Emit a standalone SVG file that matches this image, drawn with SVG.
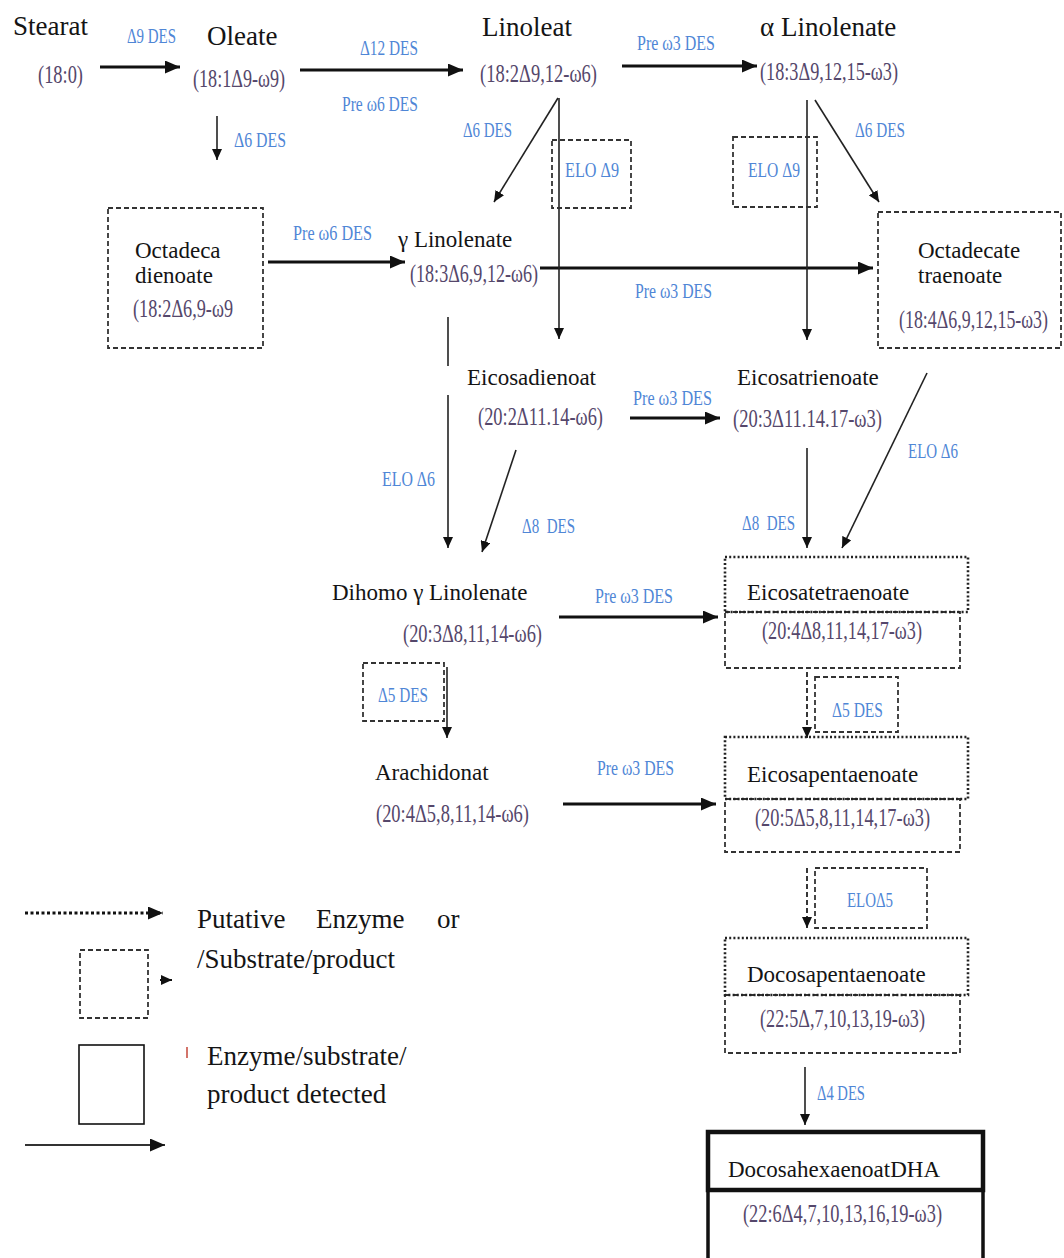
<svg xmlns="http://www.w3.org/2000/svg" width="1064" height="1258" viewBox="0 0 1064 1258">
<style>
.nm{font-family:"Liberation Serif","Times New Roman",serif;fill:#141414}
.big{font-size:27px}
.mid{font-size:23px}
.fm{font-family:"Liberation Serif","Times New Roman",serif;fill:#55476b;font-size:25px}
.lb{font-family:"Liberation Serif","Times New Roman",serif;fill:#4f86d6;font-size:21px}
.lg{font-family:"Liberation Serif","Times New Roman",serif;fill:#141414;font-size:27px}
.thk{stroke:#111;stroke-width:2.8;fill:none}
.thn{stroke:#222;stroke-width:1.6;fill:none}
.dsa{stroke:#222;stroke-width:1.8;stroke-dasharray:5 3;fill:none}
.dash{stroke:#333;stroke-width:1.8;stroke-dasharray:5 3;fill:none}
.dot{stroke:#222;stroke-width:2.6;stroke-dasharray:2 2.2;fill:none}
.solid{stroke:#111;fill:none}
</style>
<defs>
<marker id="ahT" markerUnits="userSpaceOnUse" markerWidth="15" markerHeight="13" refX="15" refY="6.5" orient="auto"><path d="M0,0 L15,6.5 L0,13 z" fill="#111"/></marker>
<marker id="ahS" markerUnits="userSpaceOnUse" markerWidth="11" markerHeight="10" refX="11" refY="5" orient="auto"><path d="M0,0 L11,5 L0,10 z" fill="#111"/></marker>
</defs>
<rect width="1064" height="1258" fill="#fff"/>

<g id="connectors">
<path class="thk" d="M100,67 H180" marker-end="url(#ahT)"/>
<path class="thk" d="M300,70 H463" marker-end="url(#ahT)"/>
<path class="thk" d="M622,66 H757" marker-end="url(#ahT)"/>
<path class="thk" d="M268,262 H405" marker-end="url(#ahT)"/>
<path class="thk" d="M540,268 H873" marker-end="url(#ahT)"/>
<path class="thk" d="M630,418 H720" marker-end="url(#ahT)"/>
<path class="thk" d="M559,617 H718" marker-end="url(#ahT)"/>
<path class="thk" d="M563,804 H716" marker-end="url(#ahT)"/>
<path class="thn" d="M217,116 V160" marker-end="url(#ahS)"/>
<path class="thn" d="M558,98 L494,202" marker-end="url(#ahS)"/>
<path class="thn" d="M559,98 V339" marker-end="url(#ahS)"/>
<path class="thn" d="M807,100 V340" marker-end="url(#ahS)"/>
<path class="thn" d="M815,100 L879,202" marker-end="url(#ahS)"/>
<path class="thn" d="M448,317 V366"/>
<path class="thn" d="M448,395 V548" marker-end="url(#ahS)"/>
<path class="thn" d="M516,450 L482,552" marker-end="url(#ahS)"/>
<path class="thn" d="M807,448 V548" marker-end="url(#ahS)"/>
<path class="thn" d="M927,373 L842,548" marker-end="url(#ahS)"/>
<path class="thn" d="M447,667 V738" marker-end="url(#ahS)"/>
<path class="thn" d="M805,1067 V1125" marker-end="url(#ahS)"/>
<path class="dsa" d="M807,672 V738" marker-end="url(#ahS)"/>
<path class="dsa" d="M807,868 V928" marker-end="url(#ahS)"/>
</g>

<g id="n-stearat">
<text class="nm big" x="13" y="35">Stearat</text>
<text class="fm" x="38" y="83" textLength="45" lengthAdjust="spacingAndGlyphs">(18:0)</text>
</g>
<g id="n-oleate">
<text class="nm big" x="207" y="45">Oleate</text>
<text class="fm" x="193" y="87" textLength="92" lengthAdjust="spacingAndGlyphs">(18:1Δ9-ω9)</text>
</g>
<g id="n-linoleat">
<text class="nm big" x="482" y="36">Linoleat</text>
<text class="fm" x="480" y="82" textLength="117" lengthAdjust="spacingAndGlyphs">(18:2Δ9,12-ω6)</text>
</g>
<g id="n-alinolenate">
<text class="nm big" x="760" y="36">α Linolenate</text>
<text class="fm" x="760" y="80" textLength="138" lengthAdjust="spacingAndGlyphs">(18:3Δ9,12,15-ω3)</text>
</g>
<g id="n-octadecadienoate">
<rect class="dash" x="108" y="208" width="155" height="140"/>
<text class="nm mid" x="135" y="258">Octadeca</text>
<text class="nm mid" x="135" y="283">dienoate</text>
<text class="fm" x="133" y="317" textLength="100" lengthAdjust="spacingAndGlyphs">(18:2Δ6,9-ω9</text>
</g>
<g id="n-glinolenate">
<text class="nm mid" x="398" y="247">γ Linolenate</text>
<text class="fm" x="410" y="282" textLength="128" lengthAdjust="spacingAndGlyphs">(18:3Δ6,9,12-ω6)</text>
</g>
<g id="n-octadecatetraenoate">
<rect class="dash" x="878" y="212" width="183" height="136"/>
<text class="nm mid" x="918" y="258">Octadecate</text>
<text class="nm mid" x="918" y="283">traenoate</text>
<text class="fm" x="899" y="328" textLength="149" lengthAdjust="spacingAndGlyphs">(18:4Δ6,9,12,15-ω3)</text>
</g>
<g id="e-elo9-left">
<rect class="dash" x="552" y="140" width="79" height="68"/>
<text class="lb" x="565" y="177" textLength="54" lengthAdjust="spacingAndGlyphs">ELO Δ9</text>
</g>
<g id="e-elo9-right">
<rect class="dash" x="733" y="137" width="84" height="70"/>
<text class="lb" x="748" y="177" textLength="52" lengthAdjust="spacingAndGlyphs">ELO Δ9</text>
</g>
<g id="n-eicosadienoat">
<text class="nm mid" x="467" y="385">Eicosadienoat</text>
<text class="fm" x="478" y="425" textLength="125" lengthAdjust="spacingAndGlyphs">(20:2Δ11.14-ω6)</text>
</g>
<g id="n-eicosatrienoate">
<text class="nm mid" x="737" y="385">Eicosatrienoate</text>
<text class="fm" x="733" y="427" textLength="149" lengthAdjust="spacingAndGlyphs">(20:3Δ11.14.17-ω3)</text>
</g>
<g id="n-dihomo">
<text class="nm mid" x="332" y="600">Dihomo γ Linolenate</text>
<text class="fm" x="403" y="642" textLength="139" lengthAdjust="spacingAndGlyphs">(20:3Δ8,11,14-ω6)</text>
</g>
<g id="e-d5-left">
<rect class="dash" x="363" y="663" width="81" height="58"/>
<text class="lb" x="378" y="702" textLength="50" lengthAdjust="spacingAndGlyphs">Δ5 DES</text>
</g>
<g id="n-arachidonat">
<text class="nm mid" x="375" y="780">Arachidonat</text>
<text class="fm" x="376" y="822" textLength="153" lengthAdjust="spacingAndGlyphs">(20:4Δ5,8,11,14-ω6)</text>
</g>
<g id="n-eicosatetraenoate">
<rect class="dash" x="725" y="612" width="235" height="56"/>
<rect class="dot" x="725" y="557" width="243" height="55"/>
<text class="nm mid" x="747" y="600">Eicosatetraenoate</text>
<text class="fm" x="762" y="639" textLength="160" lengthAdjust="spacingAndGlyphs">(20:4Δ8,11,14,17-ω3)</text>
</g>
<g id="e-d5-right">
<rect class="dash" x="815" y="677" width="83" height="55"/>
<text class="lb" x="832" y="717" textLength="51" lengthAdjust="spacingAndGlyphs">Δ5 DES</text>
</g>
<g id="n-eicosapentaenoate">
<rect class="dash" x="725" y="799" width="235" height="53"/>
<rect class="dot" x="725" y="737" width="243" height="62"/>
<text class="nm mid" x="747" y="782">Eicosapentaenoate</text>
<text class="fm" x="755" y="826" textLength="175" lengthAdjust="spacingAndGlyphs">(20:5Δ5,8,11,14,17-ω3)</text>
</g>
<g id="e-elo5">
<rect class="dash" x="815" y="868" width="112" height="60"/>
<text class="lb" x="847" y="907" textLength="46" lengthAdjust="spacingAndGlyphs">ELOΔ5</text>
</g>
<g id="n-docosapentaenoate">
<rect class="dash" x="725" y="995" width="235" height="58"/>
<rect class="dot" x="725" y="938" width="243" height="57"/>
<text class="nm mid" x="747" y="982">Docosapentaenoate</text>
<text class="fm" x="760" y="1027" textLength="165" lengthAdjust="spacingAndGlyphs">(22:5Δ,7,10,13,19-ω3)</text>
</g>
<g id="n-dha">
<path class="solid" stroke-width="3.5" d="M708,1190 V1262 M983,1190 V1262"/>
<rect class="solid" stroke-width="4.5" x="708" y="1132" width="275" height="58"/>
<text class="nm mid" x="728" y="1177">DocosahexaenoatDHA</text>
<text class="fm" x="743" y="1222" textLength="199" lengthAdjust="spacingAndGlyphs">(22:6Δ4,7,10,13,16,19-ω3)</text>
</g>

<g id="edge-labels">
<text class="lb" x="127" y="43" textLength="49" lengthAdjust="spacingAndGlyphs">Δ9 DES</text>
<text class="lb" x="234" y="147" textLength="52" lengthAdjust="spacingAndGlyphs">Δ6 DES</text>
<text class="lb" x="360" y="55" textLength="58" lengthAdjust="spacingAndGlyphs">Δ12 DES</text>
<text class="lb" x="342" y="111" textLength="76" lengthAdjust="spacingAndGlyphs">Pre ω6 DES</text>
<text class="lb" x="637" y="50" textLength="78" lengthAdjust="spacingAndGlyphs">Pre ω3 DES</text>
<text class="lb" x="463" y="137" textLength="49" lengthAdjust="spacingAndGlyphs">Δ6 DES</text>
<text class="lb" x="855" y="137" textLength="50" lengthAdjust="spacingAndGlyphs">Δ6 DES</text>
<text class="lb" x="293" y="240" textLength="79" lengthAdjust="spacingAndGlyphs">Pre ω6 DES</text>
<text class="lb" x="635" y="298" textLength="77" lengthAdjust="spacingAndGlyphs">Pre ω3 DES</text>
<text class="lb" x="382" y="486" textLength="53" lengthAdjust="spacingAndGlyphs">ELO Δ6</text>
<text class="lb" x="633" y="405" textLength="79" lengthAdjust="spacingAndGlyphs">Pre ω3 DES</text>
<text class="lb" x="522" y="533" textLength="53" lengthAdjust="spacingAndGlyphs" xml:space="preserve">Δ8  DES</text>
<text class="lb" x="742" y="530" textLength="53" lengthAdjust="spacingAndGlyphs" xml:space="preserve">Δ8  DES</text>
<text class="lb" x="908" y="458" textLength="50" lengthAdjust="spacingAndGlyphs">ELO Δ6</text>
<text class="lb" x="595" y="603" textLength="78" lengthAdjust="spacingAndGlyphs">Pre ω3 DES</text>
<text class="lb" x="597" y="775" textLength="77" lengthAdjust="spacingAndGlyphs">Pre ω3 DES</text>
<text class="lb" x="817" y="1100" textLength="48" lengthAdjust="spacingAndGlyphs">Δ4 DES</text>
</g>

<g id="legend">
<path d="M25,913 H163" stroke="#111" stroke-width="3" stroke-dasharray="3 2.5" fill="none" marker-end="url(#ahT)"/>
<rect class="dash" x="80" y="950" width="68" height="68"/>
<path d="M160,980 H172" stroke="#111" stroke-width="2" fill="none" marker-end="url(#ahS)"/>
<rect class="solid" stroke-width="1.6" x="79" y="1045" width="65" height="79"/>
<path d="M187,1047 V1058" stroke="#c0392b" stroke-width="1.4"/>
<path d="M25,1145 H165" stroke="#333" stroke-width="2.2" fill="none" marker-end="url(#ahT)"/>
<text class="lg" y="928"><tspan x="197">Putative</tspan><tspan x="316">Enzyme</tspan><tspan x="437">or</tspan></text>
<text class="lg" x="197" y="968">/Substrate/product</text>
<text class="lg" x="207" y="1065">Enzyme/substrate/</text>
<text class="lg" x="207" y="1103">product detected</text>
</g>
</svg>
